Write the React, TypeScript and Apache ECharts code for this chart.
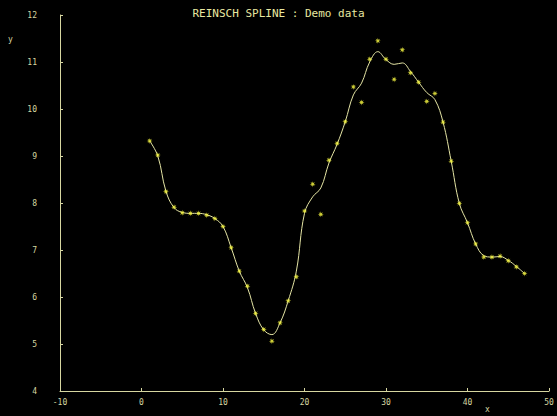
import React, { useEffect, useRef } from "react";
import * as echarts from "echarts";

const xs = [
  1, 2, 3, 4, 5, 6, 7, 8, 9, 10, 11, 12, 13, 14, 15, 16, 17, 18, 19, 20, 21, 22, 23, 24,
  25, 26, 27, 28, 29, 30, 31, 32, 33, 34, 35, 36, 37, 38, 39, 40, 41, 42, 43, 44, 45, 46, 47,
];
const observed = [
  9.32, 9.02, 8.24, 7.91, 7.79, 7.78, 7.78, 7.74, 7.67, 7.5, 7.05, 6.55, 6.23, 5.65, 5.31,
  5.06, 5.45, 5.92, 6.43, 7.83, 8.4, 7.76, 8.91, 9.27, 9.73, 10.47, 10.14, 11.06, 11.45,
  11.06, 10.63, 11.26, 10.77, 10.57, 10.16, 10.33, 9.72, 8.89, 7.99, 7.58, 7.13, 6.85, 6.85,
  6.87, 6.77, 6.64, 6.5,
];
const splineFit = [
  9.32, 9.0, 8.25, 7.9, 7.8, 7.78, 7.78, 7.75, 7.67, 7.5, 7.05, 6.55, 6.2, 5.65, 5.3, 5.2,
  5.45, 5.92, 6.55, 7.78, 8.13, 8.32, 8.85, 9.25, 9.73, 10.3, 10.55, 11.0, 11.22, 11.05,
  10.95, 10.98, 10.8, 10.57, 10.35, 10.2, 9.72, 8.89, 7.99, 7.58, 7.13, 6.88, 6.85, 6.86,
  6.78, 6.65, 6.5,
];
const titleText = "REINSCH SPLINE : Demo data";

const STAR =
  "path://M5,0 L1.85,0.77 L3.54,3.54 L0.77,1.85 L0,5 L-0.77,1.85 L-3.54,3.54 L-1.85,0.77 L-5,0 L-1.85,-0.77 L-3.54,-3.54 L-0.77,-1.85 L0,-5 L0.77,-1.85 L3.54,-3.54 L1.85,-0.77 Z";

const AXIS = "#d6d6a0";
const FONT = "DejaVu Sans Mono";

export default function App() {
  const ref = useRef<HTMLDivElement>(null);
  useEffect(() => {
    document.body.style.margin = "0";
    document.body.style.background = "#000";
    if (!ref.current) return;
    const chart = echarts.init(ref.current, undefined, { renderer: "svg" });
    chart.setOption({
      animation: false,
      backgroundColor: "#000",
      title: {
        text: titleText,
        left: "center",
        top: 3,
        textStyle: { color: "#e8e8a0", fontSize: 11, fontWeight: "normal", fontFamily: FONT },
      },
      grid: { left: 60, right: 8, top: 15, bottom: 25, containLabel: false },
      xAxis: {
        type: "value",
        min: -10,
        max: 50,
        interval: 10,
        axisLine: { onZero: false, lineStyle: { color: AXIS, width: 1 } },
        axisTick: { inside: true, length: 3, lineStyle: { color: AXIS } },
        axisLabel: { color: AXIS, fontSize: 8, fontFamily: FONT, margin: 7 },
        splitLine: { show: false },
      },
      yAxis: {
        type: "value",
        min: 4,
        max: 12,
        interval: 1,
        axisLine: { show: true, onZero: false, lineStyle: { color: AXIS, width: 1 } },
        axisTick: { show: true, inside: true, length: 3, lineStyle: { color: AXIS } },
        axisLabel: { color: AXIS, fontSize: 8, fontFamily: FONT, margin: 23 },
        splitLine: { show: false },
      },
      graphic: [
        {
          type: "text",
          left: 8,
          top: 35,
          style: { text: "y", fill: AXIS, fontSize: 8, fontFamily: FONT },
        },
        {
          type: "text",
          left: 485,
          top: 405,
          style: { text: "x", fill: AXIS, fontSize: 8, fontFamily: FONT },
        },
      ],
      series: [
        {
          type: "line",
          data: xs.map((x, i) => [x, splineFit[i]]),
          smooth: 0.4,
          showSymbol: false,
          lineStyle: { color: "#e4e4a4", width: 1 },
          z: 2,
        },
        {
          type: "scatter",
          data: xs.map((x, i) => [x, observed[i]]),
          symbol: STAR,
          symbolSize: 6,
          itemStyle: { color: "#ffff44" },
          z: 3,
        },
      ],
    });
    return () => chart.dispose();
  }, []);
  return <div ref={ref} style={{ width: 557, height: 416 }} />;
}
